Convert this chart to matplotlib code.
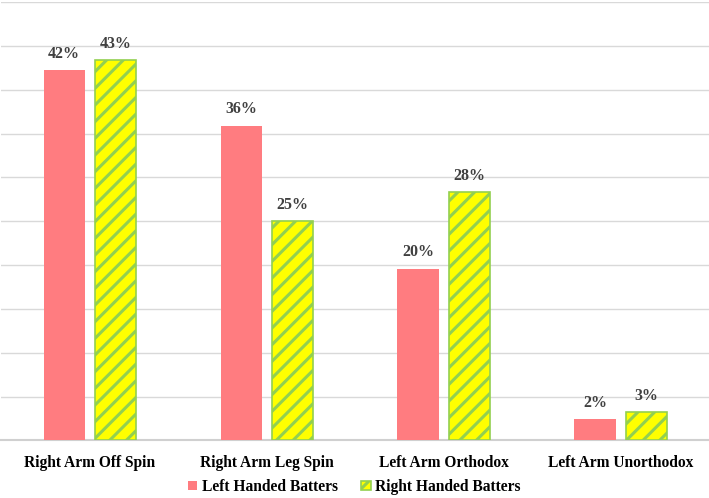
import numpy as np
import matplotlib
matplotlib.use('Agg')
from matplotlib import pyplot as plt

categories = ['Right Arm Off Spin', 'Right Arm Leg Spin', 'Left Arm Orthodox', 'Left Arm Unorthodox']
left_vals = [42.2, 35.9, 19.6, 2.4]
right_vals = [43.4, 25.0, 28.3, 3.2]
left_labels = ['42%', '36%', '20%', '2%']
right_labels = ['43%', '25%', '28%', '3%']
series = ['Left Handed Batters', 'Right Handed Batters']

plt.rcParams['font.family'] = ['Liberation Serif', 'DejaVu Serif']
plt.rcParams['font.weight'] = 'bold'
plt.rcParams['hatch.linewidth'] = 2.2

fig = plt.figure(figsize=(7.09, 4.98), dpi=100)
ax = fig.add_axes([0.002, 0.1155, 0.998, 0.8805])

x = np.arange(len(categories))
w = 0.233
off = 0.145
txt = '#404040'

b1 = ax.bar(x - off, left_vals, w, color='#FF7C80', label=series[0], zorder=3)
b2 = ax.bar(x + off, right_vals, w, facecolor='#FFFF00', edgecolor='#92D050',
            hatch='//', linewidth=1.2, label=series[1], zorder=3)

for bars, labs in [(b1, left_labels), (b2, right_labels)]:
    for r, lab in zip(bars, labs):
        ax.annotate(lab, (r.get_x() + r.get_width() / 2, r.get_height()),
                    xytext=(0, 6), textcoords='offset points', ha='center', va='bottom',
                    fontsize=11.5, fontweight='bold', color=txt)

ax.set_xlim(-0.5, 3.5)
ax.set_ylim(0, 50)
ax.set_yticks(np.arange(0, 51, 5))
ax.yaxis.grid(True, color='#D9D9D9', linewidth=1, zorder=0)
ax.set_axisbelow(True)
ax.tick_params(axis='y', left=False, labelleft=False)
ax.tick_params(axis='x', bottom=False, pad=7)
ax.set_xticks(x)
ax.set_xticklabels(categories, fontsize=11.2, fontweight='bold', color='black')
for s in ['top', 'left', 'right']:
    ax.spines[s].set_visible(False)
ax.spines['bottom'].set_color('#D0D0D0')
ax.spines['bottom'].set_linewidth(1.5)

fig.legend(handles=[b1, b2], loc='center', bbox_to_anchor=(0.5, 0.022), ncol=2, frameon=False,
           prop={'size': 11.2, 'weight': 'bold'}, handlelength=0.6, handleheight=0.6,
           handletextpad=0.3, columnspacing=1.5)

fig.savefig('out.png', dpi=100)
